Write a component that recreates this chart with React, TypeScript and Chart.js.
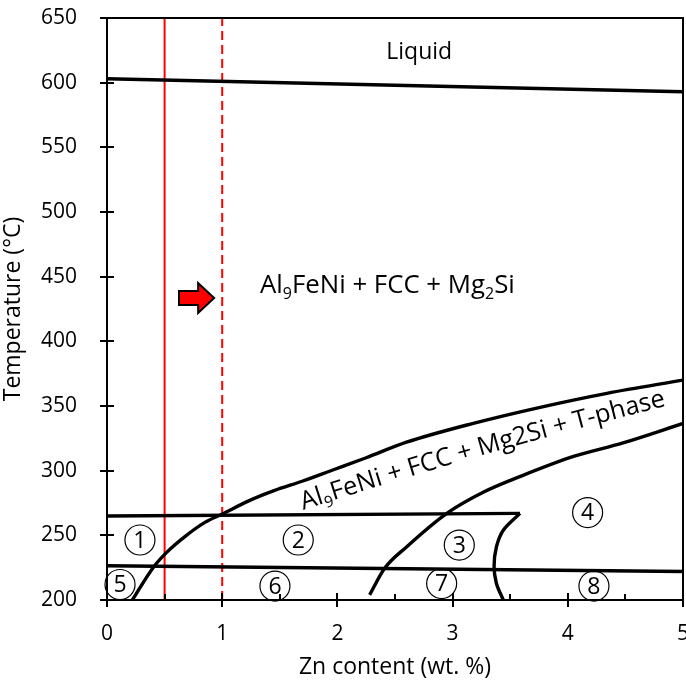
import React, { useEffect, useRef } from "react";
import { Chart, registerables } from "chart.js";

Chart.register(...registerables);

const FONT = "'Open Sans', 'DejaVu Sans', sans-serif";

// Axis ranges (Zn content in wt.%, temperature in °C)
const X_MIN = 0;
const X_MAX = 5;
const X_STEP = 1;
const X_MINOR_TICKS = [0.5, 1.5, 2.5, 3.5, 4.5];
const Y_MIN = 200;
const Y_MAX = 650;
const Y_STEP = 50;

// Phase boundaries
const liquidusX = [0, 5];
const liquidusY = [603, 593];

const solvusHighX = [0, 3.585];
const solvusHighY = [265, 267];

const solvusLowX = [0, 5];
const solvusLowY = [226.5, 222];

const tPhaseUpperX = [0.22, 0.4, 0.52, 0.69, 0.85, 1.0, 1.24, 1.45, 1.7, 1.96, 2.25, 2.6, 3.18, 3.76, 4.34, 5];
const tPhaseUpperY = [200, 225, 237, 250, 260, 266.5, 277, 284.5, 292, 300.5, 310, 322, 336.6, 349, 359.8, 370];

const tPhaseLowerX = [2.28, 2.41, 2.6, 2.95, 3.27, 3.6, 4.05, 4.48, 5];
const tPhaseLowerY = [204, 224.5, 241, 267, 283.5, 296, 311, 321.5, 336.5];

const hookX = [3.585, 3.44, 3.38, 3.36, 3.38, 3.44];
const hookY = [267, 254, 241, 226, 213, 200];

// Alloy composition markers
const alloyBaseX = 0.5;
const alloyAddedX = 1.0;

// Region numbers
const regionNumbers = ["1", "2", "3", "4", "5", "6", "7", "8"];
const regionX = [0.286, 1.66, 3.058, 4.172, 0.113, 1.458, 2.905, 4.227];
const regionY = [246.4, 246.4, 242.5, 267.6, 212, 210.8, 212.7, 210.8];

// Phase field labels
const liquidLabel = { text: "Liquid", x: 2.71, y: 618 };
const mainFieldLabel = { x: 1.328, y: 437.1 };
const mainFieldParts: [string, boolean][] = [
  ["Al", false],
  ["9", true],
  ["FeNi + FCC + Mg", false],
  ["2", true],
  ["Si", false],
];
const bandLabel = { x: 1.704, y: 269.6, startAngle: 18, endAngle: 14 };
const bandParts: [string, boolean][] = [
  ["Al", false],
  ["9", true],
  ["FeNi + FCC + Mg2Si + T-phase", false],
];

// Arrow pointing from the base alloy towards the Zn-added alloy
const arrowTailX = 0.625;
const arrowTipX = 0.93;
const arrowY = 433.5;

const zip = (xs: number[], ys: number[]) => xs.map((x, i) => ({ x, y: ys[i] }));

const lineSet = (xs: number[], ys: number[], width: number, smooth: "none" | "monotone" | "tension" = "none") => ({
  data: zip(xs, ys),
  showLine: true,
  borderColor: "#000",
  borderWidth: width,
  pointRadius: 0,
  tension: smooth === "tension" ? 0.35 : smooth === "monotone" ? 0.4 : 0,
  cubicInterpolationMode: smooth === "monotone" ? "monotone" : "default",
  fill: false,
});

function drawRich(
  ctx: CanvasRenderingContext2D,
  parts: [string, boolean][],
  size: number,
  x0: number,
  y0: number
) {
  let x = x0;
  for (const [text, sub] of parts) {
    const s = sub ? size * 0.62 : size;
    ctx.font = `${s}px ${FONT}`;
    ctx.fillText(text, x, y0 + (sub ? size * 0.2 : 0));
    x += ctx.measureText(text).width;
  }
}

function drawAlongBand(
  ctx: CanvasRenderingContext2D,
  parts: [string, boolean][],
  size: number,
  x0: number,
  y0: number,
  a0: number,
  a1: number
) {
  const chars: { c: string; sub: boolean; w: number }[] = [];
  for (const [text, sub] of parts) {
    ctx.font = `${sub ? size * 0.62 : size}px ${FONT}`;
    for (const c of text) chars.push({ c, sub, w: ctx.measureText(c).width });
  }
  const total = chars.reduce((s, ch) => s + ch.w, 0);
  let x = x0;
  let y = y0;
  let run = 0;
  for (const ch of chars) {
    const t = (run + ch.w / 2) / total;
    const a = ((a0 + (a1 - a0) * t) * Math.PI) / 180;
    ctx.save();
    ctx.translate(x, y);
    ctx.rotate(-a);
    ctx.font = `${ch.sub ? size * 0.62 : size}px ${FONT}`;
    ctx.fillText(ch.c, 0, ch.sub ? size * 0.2 : 0);
    ctx.restore();
    x += ch.w * Math.cos(a);
    y -= ch.w * Math.sin(a);
    run += ch.w;
  }
}

const phaseDecor = {
  id: "phaseDecor",
  afterDatasetsDraw(chart: any) {
    const { ctx } = chart;
    const xs = chart.scales.x;
    const ys = chart.scales.y;
    const px = (v: number) => xs.getPixelForValue(v);
    const py = (v: number) => ys.getPixelForValue(v);

    ctx.save();
    ctx.fillStyle = "#000";
    ctx.textBaseline = "alphabetic";

    // Liquid
    ctx.textAlign = "center";
    ctx.font = `23px ${FONT}`;
    ctx.fillText(liquidLabel.text, px(liquidLabel.x), py(liquidLabel.y));

    // Three-phase field
    ctx.textAlign = "left";
    drawRich(ctx, mainFieldParts, 25.8, px(mainFieldLabel.x), py(mainFieldLabel.y));

    // Four-phase band
    drawAlongBand(
      ctx,
      bandParts,
      25.4,
      px(bandLabel.x),
      py(bandLabel.y),
      bandLabel.startAngle,
      bandLabel.endAngle
    );

    // Circled region numbers
    ctx.textAlign = "center";
    ctx.textBaseline = "middle";
    ctx.strokeStyle = "#000";
    ctx.lineWidth = 1.2;
    regionNumbers.forEach((n, i) => {
      const cx = px(regionX[i]);
      const cy = py(regionY[i]);
      ctx.beginPath();
      ctx.arc(cx, cy, 15, 0, Math.PI * 2);
      ctx.stroke();
      ctx.font = `23px ${FONT}`;
      ctx.fillText(n, cx, cy + 1);
    });

    // Arrow
    const x0 = px(arrowTailX);
    const x1 = px(arrowTipX);
    const yc = py(arrowY);
    const xh = x1 - 16;
    ctx.beginPath();
    ctx.moveTo(x0, yc - 7);
    ctx.lineTo(xh, yc - 7);
    ctx.lineTo(xh, yc - 15);
    ctx.lineTo(x1, yc);
    ctx.lineTo(xh, yc + 15);
    ctx.lineTo(xh, yc + 7);
    ctx.lineTo(x0, yc + 7);
    ctx.closePath();
    ctx.fillStyle = "#ff0000";
    ctx.fill();
    ctx.lineWidth = 2;
    ctx.strokeStyle = "#000";
    ctx.stroke();
    ctx.restore();
  },
  afterDraw(chart: any) {
    const { ctx, chartArea } = chart;
    const { left, right, top, bottom } = chartArea;
    const xs = chart.scales.x;
    const ys = chart.scales.y;
    ctx.save();
    ctx.strokeStyle = "#000";
    ctx.lineWidth = 2;
    ctx.strokeRect(left, top, right - left, bottom - top);
    ctx.beginPath();
    for (let v = X_MIN; v <= X_MAX; v += X_STEP) {
      const p = Math.round(xs.getPixelForValue(v));
      ctx.moveTo(p, bottom - 7);
      ctx.lineTo(p, bottom + 7);
    }
    for (const v of X_MINOR_TICKS) {
      const p = Math.round(xs.getPixelForValue(v));
      ctx.moveTo(p, bottom - 6);
      ctx.lineTo(p, bottom);
    }
    for (let v = Y_MIN; v <= Y_MAX; v += Y_STEP) {
      const p = Math.round(ys.getPixelForValue(v));
      ctx.moveTo(left - 7, p);
      ctx.lineTo(left + 7, p);
    }
    ctx.stroke();
    ctx.restore();
  },
};

export default function App() {
  const canvasRef = useRef<HTMLCanvasElement | null>(null);

  useEffect(() => {
    const canvas = canvasRef.current;
    if (!canvas) return;
    const chart = new Chart(canvas, {
      type: "scatter",
      data: {
        datasets: [
          lineSet(liquidusX, liquidusY, 3.6),
          lineSet(solvusHighX, solvusHighY, 3.4),
          lineSet(solvusLowX, solvusLowY, 3.4),
          lineSet(tPhaseUpperX, tPhaseUpperY, 3.4, "monotone"),
          lineSet(tPhaseLowerX, tPhaseLowerY, 3.4, "monotone"),
          lineSet(hookX, hookY, 3.4, "tension"),
          {
            data: zip([alloyBaseX, alloyBaseX], [Y_MIN, Y_MAX]),
            showLine: true,
            borderColor: "#ff0000",
            borderWidth: 2,
            pointRadius: 0,
          },
          {
            data: zip([alloyAddedX, alloyAddedX], [Y_MIN, Y_MAX]),
            showLine: true,
            borderColor: "#ff0000",
            borderWidth: 2,
            borderDash: [9, 5],
            pointRadius: 0,
          },
        ] as any,
      },
      options: {
        responsive: false,
        animation: false,
        layout: { padding: { top: 18, right: 3, left: 0, bottom: 0 } },
        plugins: { legend: { display: false }, tooltip: { enabled: false } },
        scales: {
          x: {
            type: "linear",
            min: X_MIN,
            max: X_MAX,
            ticks: {
              stepSize: X_STEP,
              color: "#000",
              font: { family: FONT, size: 21 },
              padding: 13,
              maxRotation: 0,
            },
            grid: { display: false },
            border: { display: false },
            title: {
              display: true,
              text: "Zn content (wt. %)",
              color: "#000",
              font: { family: FONT, size: 23 },
              padding: { top: 0, bottom: 5 },
            },
            afterFit: (s: any) => {
              s.height = 86;
              s.paddingLeft = 0;
              s.paddingRight = 0;
            },
          },
          y: {
            type: "linear",
            min: Y_MIN,
            max: Y_MAX,
            ticks: {
              stepSize: Y_STEP,
              color: "#000",
              font: { family: FONT, size: 21 },
              padding: 22,
            },
            grid: { display: false },
            border: { display: false },
            title: {
              display: true,
              text: "Temperature (°C)",
              color: "#000",
              font: { family: FONT, size: 23 },
              padding: { top: 0, bottom: 12 },
            },
            afterFit: (s: any) => {
              s.width = 107;
              s.paddingTop = 0;
              s.paddingBottom = 0;
            },
          },
        },
      } as any,
      plugins: [phaseDecor],
    });
    return () => chart.destroy();
  }, []);

  return (
    <div style={{ position: "fixed", left: 0, top: 0, width: 686, height: 686, background: "#fff" }}>
      <canvas ref={canvasRef} width={686} height={686} />
    </div>
  );
}
